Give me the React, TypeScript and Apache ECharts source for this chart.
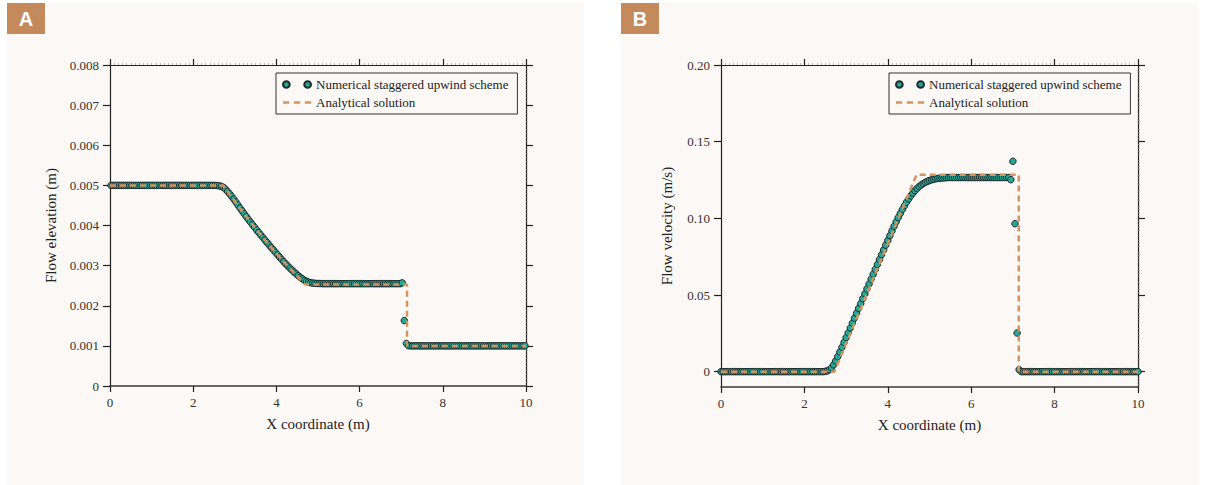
import React, { useEffect, useRef } from 'react';
import * as echarts from 'echarts';

const NUM_NAME = 'Numerical staggered upwind scheme';
const ANA_NAME = 'Analytical solution';

const xTicks = [0, 2, 4, 6, 8, 10];
const elevationTicks = [0, 0.001, 0.002, 0.003, 0.004, 0.005, 0.006, 0.007, 0.008];
const velocityTicks = [0, 0.05, 0.1, 0.15, 0.2];

// grid cell size (m): elevation at cell centres, velocity at cell faces
const cellSize = 0.05;

// Flow elevation (m), numerical, at cell centres 0.025, 0.075, ... 9.975
const elevationNumerical = [
  0.005, 0.005, 0.005, 0.005, 0.005, 0.005, 0.005, 0.005, 0.005, 0.005,
  0.005, 0.005, 0.005, 0.005, 0.005, 0.005, 0.005, 0.005, 0.005, 0.005,
  0.005, 0.005, 0.005, 0.005, 0.005, 0.005, 0.005, 0.005, 0.005, 0.005,
  0.005, 0.005, 0.005, 0.005, 0.005, 0.005, 0.005, 0.005, 0.005, 0.005,
  0.005, 0.005, 0.005, 0.005, 0.005, 0.005, 0.005, 0.005, 0.005, 0.005,
  0.004999, 0.004996, 0.004989, 0.004975, 0.00495, 0.004905, 0.00485, 0.00479, 0.004725, 0.004658,
  0.004588, 0.004511, 0.004436, 0.004364, 0.004292, 0.004222, 0.004153, 0.004087, 0.004021, 0.003956,
  0.003891, 0.003827, 0.003764, 0.0037, 0.003638, 0.003576, 0.003514, 0.003453, 0.003393, 0.003333,
  0.003274, 0.003215, 0.003156, 0.003099, 0.003044, 0.002991, 0.002938, 0.002888, 0.00284, 0.002793,
  0.002749, 0.002708, 0.00267, 0.002636, 0.002608, 0.002588, 0.002574, 0.002565, 0.002559, 0.002556,
  0.002554, 0.002553, 0.00255, 0.00255, 0.00255, 0.00255, 0.00255, 0.00255, 0.00255, 0.00255,
  0.00255, 0.00255, 0.00255, 0.00255, 0.00255, 0.00255, 0.00255, 0.00255, 0.00255, 0.00255,
  0.00255, 0.00255, 0.00255, 0.00255, 0.00255, 0.00255, 0.00255, 0.00255, 0.00255, 0.00255,
  0.00255, 0.00255, 0.00255, 0.00255, 0.00255, 0.00255, 0.00255, 0.00255, 0.00255, 0.00255,
  0.00257, 0.00163, 0.00106, 0.001005, 0.001, 0.001, 0.001, 0.001, 0.001, 0.001,
  0.001, 0.001, 0.001, 0.001, 0.001, 0.001, 0.001, 0.001, 0.001, 0.001,
  0.001, 0.001, 0.001, 0.001, 0.001, 0.001, 0.001, 0.001, 0.001, 0.001,
  0.001, 0.001, 0.001, 0.001, 0.001, 0.001, 0.001, 0.001, 0.001, 0.001,
  0.001, 0.001, 0.001, 0.001, 0.001, 0.001, 0.001, 0.001, 0.001, 0.001,
  0.001, 0.001, 0.001, 0.001, 0.001, 0.001, 0.001, 0.001, 0.001, 0.001,
];

// Flow velocity (m/s), numerical, at cell faces 0, 0.05, ... 10
const velocityNumerical = [
  0, 0, 0, 0, 0, 0, 0, 0, 0, 0,
  0, 0, 0, 0, 0, 0, 0, 0, 0, 0,
  0, 0, 0, 0, 0, 0, 0, 0, 0, 0,
  0, 0, 0, 0, 0, 0, 0, 0, 0, 0,
  0, 0, 0, 0, 0, 0, 0, 0, 0, 0,
  0.0002, 0.0005, 0.0012, 0.0025, 0.0045, 0.007, 0.0098, 0.0128, 0.0159, 0.019,
  0.0222, 0.0253, 0.0285, 0.0317, 0.0349, 0.0381, 0.0413, 0.0444, 0.0476, 0.0508,
  0.054, 0.0572, 0.0604, 0.0636, 0.0667, 0.0699, 0.0731, 0.0763, 0.0794, 0.0825,
  0.0856, 0.0887, 0.0918, 0.0948, 0.0977, 0.1005, 0.1032, 0.1058, 0.1082, 0.1105,
  0.1126, 0.1146, 0.1164, 0.118, 0.1194, 0.1207, 0.1218, 0.1227, 0.1235, 0.1241,
  0.1247, 0.1251, 0.1255, 0.1258, 0.126, 0.1262, 0.1263, 0.1264, 0.1265, 0.1266,
  0.1266, 0.1266, 0.1266, 0.1266, 0.1266, 0.1266, 0.1266, 0.1266, 0.1266, 0.1266,
  0.1266, 0.1266, 0.1266, 0.1266, 0.1266, 0.1266, 0.1266, 0.1266, 0.1266, 0.1266,
  0.1266, 0.1266, 0.1266, 0.1266, 0.1266, 0.1266, 0.1266, 0.1266, 0.1266, 0.1252,
  0.1372, 0.0965, 0.0252, 0.0013, 0, 0, 0, 0, 0, 0,
  0, 0, 0, 0, 0, 0, 0, 0, 0, 0,
  0, 0, 0, 0, 0, 0, 0, 0, 0, 0,
  0, 0, 0, 0, 0, 0, 0, 0, 0, 0,
  0, 0, 0, 0, 0, 0, 0, 0, 0, 0,
  0, 0, 0, 0, 0, 0, 0, 0, 0, 0,
  0,
];

// Analytical solution
const elevationAnalyticalX = [0, 2.72, 2.925, 3.125, 3.325, 3.525, 3.725, 3.925, 4.125, 4.325, 4.525, 4.69, 7.14, 7.14, 10];
const elevationAnalytical = [0.005, 0.005, 0.004703, 0.004424, 0.004153, 0.003891, 0.003638, 0.003393, 0.003156, 0.002928, 0.002709, 0.00253, 0.00253, 0.001, 0.001];
const velocityAnalyticalX = [0, 2.72, 4.69, 7.14, 7.14, 10];
const velocityAnalytical = [0, 0, 0.1285, 0.1285, 0, 0];

const SERIF = "'Liberation Serif', 'Times New Roman', serif";
const PANEL_BG = '#FBF8F5';
const TEAL = '#27A797';
const DOT_EDGE = '#1d2a2a';
const DASH = '#D49460';
const AXIS = '#222';
const TWO_DOTS = 'path://M0,3a3,3 0 1,0 6,0a3,3 0 1,0 -6,0M19,3a3,3 0 1,0 6,0a3,3 0 1,0 -6,0';
const DASHES = 'path://M0,0h6v2.6h-6zM10.5,0h6v2.6h-6zM21,0h6v2.6h-6z';

function mainAxis(extra: any) {
  return {
    type: 'value',
    axisLine: { show: true, onZero: false, lineStyle: { color: AXIS, width: 1.2 } },
    axisTick: { show: true, inside: false, length: 7, lineStyle: { color: AXIS, width: 1.2 } },
    axisLabel: { color: '#333', fontFamily: SERIF, fontSize: 13 },
    splitLine: { show: false },
    nameTextStyle: { color: '#222', fontFamily: SERIF, fontSize: 15 },
    nameLocation: 'middle',
    ...extra,
  };
}

function mirrorAxis(extra: any) {
  return {
    type: 'value',
    axisLine: { show: true, onZero: false, lineStyle: { color: AXIS, width: 1.2 } },
    axisTick: { show: true, inside: false, length: 7, lineStyle: { color: AXIS, width: 1.2 } },
    axisLabel: { show: false },
    splitLine: { show: false },
    minorSplitLine: { show: false },
    ...extra,
  };
}

function legendFor(left: number) {
  return {
    left,
    top: 73,
    orient: 'vertical',
    borderColor: '#333',
    borderWidth: 1,
    borderRadius: 0,
    backgroundColor: PANEL_BG,
    padding: [5, 9, 5, 6],
    itemGap: 5,
    itemWidth: 28,
    itemHeight: 12,
    selectedMode: false,
    textStyle: { color: '#222', fontFamily: SERIF, fontSize: 13 },
    data: [{ name: NUM_NAME, icon: TWO_DOTS }, { name: ANA_NAME, icon: DASHES }],
  };
}

export default function App() {
  const ref = useRef<HTMLDivElement>(null);

  useEffect(() => {
    document.body.style.margin = '0';
    if (!ref.current) return;
    const chart = echarts.init(ref.current, undefined, { renderer: 'svg' });

    const elevPts = elevationNumerical.map((v, i) => [cellSize * (i + 0.5), v]);
    const velPts = velocityNumerical.map((v, i) => [cellSize * i, v]);
    const elevAna = elevationAnalyticalX.map((x, i) => [x, elevationAnalytical[i]]);
    const velAna = velocityAnalyticalX.map((x, i) => [x, velocityAnalytical[i]]);

    const scatterStyle = {
      type: 'scatter',
      name: NUM_NAME,
      symbol: 'circle',
      symbolSize: 6.5,
      itemStyle: { color: TEAL, borderColor: DOT_EDGE, borderWidth: 1, opacity: 1 },
      z: 3,
    };
    const lineStyle = {
      type: 'line',
      name: ANA_NAME,
      symbol: 'none',
      showSymbol: false,
      lineStyle: { color: DASH, width: 2.5, type: [6, 4] },
      itemStyle: { color: DASH, borderWidth: 0 },
      z: 4,
    };

    const xMain = (grid: number) =>
      mainAxis({
        gridIndex: grid, position: 'bottom', min: 0, max: 10, interval: 2,
        axisLine: { show: true, onZero: false, lineStyle: { color: '#3a3a3a', width: 1.6 } },
        axisTick: { show: true, length: 6, lineStyle: { color: AXIS, width: 1.2 }, customValues: xTicks },
        axisLabel: { color: '#333', fontFamily: SERIF, fontSize: 13, margin: 10, customValues: xTicks },
        name: 'X coordinate (m)', nameGap: 30,
      });
    const xTop = (grid: number) =>
      mirrorAxis({
        gridIndex: grid, position: 'top', min: 0, max: 10, interval: 2,
        axisTick: { show: true, length: 6, lineStyle: { color: AXIS, width: 1.2 } },
        minorTick: { show: true, splitNumber: 20, length: 2, lineStyle: { color: '#999', width: 0.6 } },
      });

    const option: any = {
      animation: false,
      backgroundColor: '#ffffff',
      graphic: [
        { type: 'rect', z: -10, shape: { x: 7, y: 3, width: 577, height: 482 }, style: { fill: PANEL_BG } },
        { type: 'rect', z: -10, shape: { x: 621, y: 3, width: 577, height: 482 }, style: { fill: PANEL_BG } },
        { type: 'rect', z: -9, shape: { x: 7, y: 3, width: 38, height: 31 }, style: { fill: '#C48A5C' } },
        { type: 'rect', z: -9, shape: { x: 621, y: 3, width: 38, height: 31 }, style: { fill: '#C48A5C' } },
        {
          type: 'text', z: -8, x: 26, y: 19,
          style: { text: 'A', fill: '#fff', font: "bold 20px 'Liberation Sans', Arial, sans-serif", align: 'center', verticalAlign: 'middle' },
        },
        {
          type: 'text', z: -8, x: 640, y: 19,
          style: { text: 'B', fill: '#fff', font: "bold 20px 'Liberation Sans', Arial, sans-serif", align: 'center', verticalAlign: 'middle' },
        },
      ],
      legend: [legendFor(276), legendFor(889)],
      grid: [
        { left: 110, top: 65, width: 416, height: 321, containLabel: false },
        { left: 721, top: 65, width: 417, height: 322, containLabel: false },
      ],
      xAxis: [xMain(0), xTop(0), xMain(1), xTop(1)],
      yAxis: [
        mainAxis({
          gridIndex: 0, position: 'left', min: 0, max: 0.008, interval: 0.001,
          axisTick: { show: true, length: 7, lineStyle: { color: AXIS, width: 1.2 }, customValues: elevationTicks },
          axisLabel: {
            color: '#333', fontFamily: SERIF, fontSize: 13, margin: 11, customValues: elevationTicks,
            formatter: (v: number) => (v === 0 ? '0' : v.toFixed(3)),
          },
          name: 'Flow elevation (m)', nameGap: 52,
        }),
        mirrorAxis({
          gridIndex: 0, position: 'right', min: 0, max: 0.008, interval: 0.001,
          minorTick: { show: true, splitNumber: 10, length: 2, lineStyle: { color: '#999', width: 0.6 } },
        }),
        mainAxis({
          gridIndex: 1, position: 'left', min: -0.01, max: 0.2, interval: 0.01,
          axisTick: { show: true, length: 7, lineStyle: { color: AXIS, width: 1.2 }, customValues: velocityTicks },
          axisLabel: {
            color: '#333', fontFamily: SERIF, fontSize: 13, margin: 11, customValues: velocityTicks,
            formatter: (v: number) => (v === 0 ? '0' : v.toFixed(2)),
          },
          name: 'Flow velocity (m/s)', nameGap: 47,
        }),
        mirrorAxis({
          gridIndex: 1, position: 'right', min: -0.01, max: 0.2, interval: 0.01,
          axisTick: { show: true, length: 7, lineStyle: { color: AXIS, width: 1.2 }, customValues: velocityTicks },
          minorTick: { show: true, splitNumber: 5, length: 2, lineStyle: { color: '#999', width: 0.6 } },
        }),
      ],
      series: [
        { ...scatterStyle, xAxisIndex: 0, yAxisIndex: 0, data: elevPts },
        { ...lineStyle, xAxisIndex: 0, yAxisIndex: 0, data: elevAna },
        { ...scatterStyle, xAxisIndex: 2, yAxisIndex: 2, data: velPts },
        { ...lineStyle, xAxisIndex: 2, yAxisIndex: 2, data: velAna },
      ],
    };

    chart.setOption(option);
    return () => {
      chart.dispose();
    };
  }, []);

  return <div ref={ref} style={{ width: 1205, height: 485 }} />;
}
